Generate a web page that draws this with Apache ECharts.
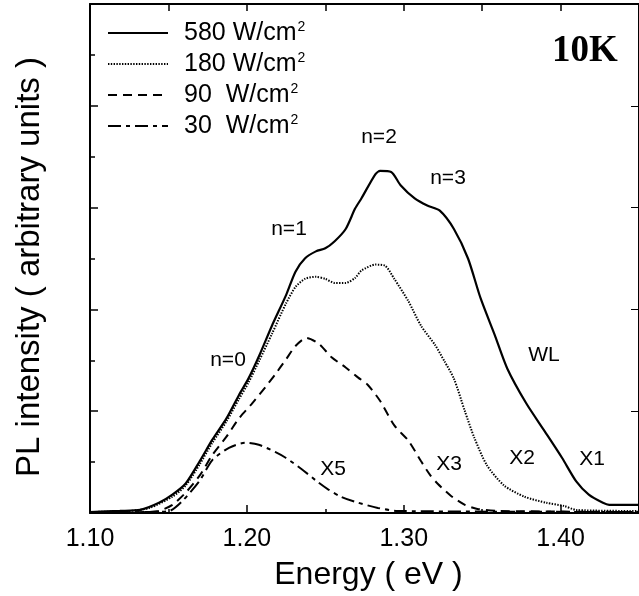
<!DOCTYPE html>
<html>
<head>
<meta charset="utf-8">
<script src="https://cdn.jsdelivr.net/npm/echarts@6/dist/echarts.min.js"></script>
<style>
  html, body { margin: 0; padding: 0; background: #fff; }
  #chart { width: 639px; height: 596px; }
</style>
</head>
<body>
<div id="chart"></div>
<script>
// PL spectra at 10 K for four excitation power densities
const seriesNames = ['580 W/cm²', '180 W/cm²', '90  W/cm²', '30  W/cm²'];

const energy580 = [1.100, 1.119, 1.132, 1.144, 1.1525, 1.161, 1.170, 1.178, 1.187, 1.195, 1.201, 1.208, 1.216, 1.225, 1.231, 1.237, 1.244, 1.250, 1.256, 1.263, 1.269, 1.273, 1.282, 1.285, 1.292, 1.298, 1.307, 1.315, 1.323, 1.332, 1.341, 1.349, 1.358, 1.366, 1.378, 1.390, 1.401, 1.410, 1.418, 1.427, 1.431, 1.450];
const pl580     = [0.01, 0.02, 0.03, 0.10, 0.18, 0.29, 0.51, 0.72, 0.93, 1.16, 1.32, 1.55, 1.84, 2.14, 2.37, 2.50, 2.57, 2.60, 2.67, 2.79, 2.99, 3.09, 3.33, 3.36, 3.35, 3.22, 3.09, 3.02, 2.97, 2.79, 2.50, 2.11, 1.75, 1.42, 1.08, 0.80, 0.54, 0.31, 0.18, 0.10, 0.08, 0.08];

const energy180 = [1.100, 1.125, 1.138, 1.1525, 1.161, 1.170, 1.178, 1.187, 1.195, 1.201, 1.208, 1.216, 1.225, 1.231, 1.237, 1.244, 1.250, 1.256, 1.263, 1.269, 1.273, 1.282, 1.288, 1.294, 1.303, 1.311, 1.320, 1.326, 1.332, 1.339, 1.345, 1.353, 1.364, 1.377, 1.391, 1.402, 1.410, 1.450];
const pl180     = [0.01, 0.02, 0.05, 0.16, 0.27, 0.48, 0.69, 0.90, 1.12, 1.28, 1.50, 1.76, 2.06, 2.22, 2.30, 2.32, 2.30, 2.26, 2.26, 2.31, 2.38, 2.44, 2.43, 2.30, 2.08, 1.84, 1.65, 1.49, 1.32, 1.00, 0.74, 0.47, 0.27, 0.16, 0.10, 0.07, 0.03, 0.02];

const energy90 = [1.100, 1.138, 1.144, 1.1525, 1.161, 1.170, 1.178, 1.187, 1.195, 1.203, 1.212, 1.218, 1.225, 1.231, 1.238, 1.246, 1.254, 1.263, 1.271, 1.277, 1.285, 1.294, 1.303, 1.311, 1.317, 1.3215, 1.330, 1.339, 1.347, 1.360, 1.450];
const pl90     = [0.00, 0.01, 0.02, 0.08, 0.20, 0.37, 0.57, 0.75, 0.93, 1.07, 1.24, 1.36, 1.51, 1.64, 1.72, 1.66, 1.53, 1.43, 1.33, 1.26, 1.10, 0.86, 0.71, 0.51, 0.37, 0.29, 0.17, 0.08, 0.04, 0.02, 0.01];

const energy30 = [1.100, 1.138, 1.1506, 1.159, 1.170, 1.178, 1.1886, 1.199, 1.2076, 1.218, 1.225, 1.235, 1.2456, 1.252, 1.260, 1.269, 1.2835, 1.296, 1.450];
const pl30     = [0.00, 0.01, 0.02, 0.12, 0.32, 0.52, 0.64, 0.69, 0.67, 0.60, 0.54, 0.43, 0.30, 0.23, 0.16, 0.11, 0.05, 0.02, 0.01];

// Peak / transition labels
const peakLabels = ['n=0', 'n=1', 'n=2', 'n=3', 'WL', 'X5', 'X3', 'X2', 'X1'];
const tempLabel = '10K';

const FONT = '"Liberation Sans", Arial, Helvetica, sans-serif';
const zip = (xs, ys) => xs.map((x, i) => [x, ys[i]]);

const lineStyles = [
  { color: '#000', width: 2.2, type: 'solid' },
  { color: '#000', width: 2, type: [1.4, 1.4] },
  { color: '#000', width: 2, type: [9, 6] },
  { color: '#000', width: 2, type: [13, 5, 4, 5] }
];
const curves = [
  zip(energy580, pl580),
  zip(energy180, pl180),
  zip(energy90, pl90),
  zip(energy30, pl30)
];

// label anchor points (pixels) for the peak annotations
const labelAnchors = [[228, 360], [289, 229], [379, 137], [448, 178], [544, 355], [333, 469], [449, 464], [522, 458], [592, 459]];

const chart = echarts.init(document.getElementById('chart'), null, { renderer: 'canvas' });

const frameTick = { color: '#000', width: 1.5 };

chart.setOption({
  backgroundColor: '#fff',
  animation: false,
  grid: { left: 90, top: 4, width: 553, height: 511, containLabel: false },
  legend: {
    orient: 'vertical',
    left: 107,
    top: 20,
    padding: 0,
    itemWidth: 60,
    itemHeight: 14,
    itemGap: 5,
    selectedMode: false,
    data: seriesNames,
    itemStyle: { color: 'rgba(0,0,0,0)', borderWidth: 0, opacity: 0 },
    formatter: name => '{m|' + name.replace('²', '') + '}{s|2}',
    textStyle: {
      color: '#000',
      fontFamily: FONT,
      fontSize: 25,
      rich: {
        m: { fontSize: 25, fontFamily: FONT, color: '#000', padding: [0, 0, 0, 11], verticalAlign: 'bottom' },
        s: { fontSize: 14, fontFamily: FONT, color: '#000', padding: [0, 0, 12, 1], verticalAlign: 'bottom' }
      }
    }
  },
  xAxis: [
    {
      type: 'value', position: 'bottom', min: 1.10, max: 1.45, interval: 0.1,
      axisLine: { show: true, onZero: false, lineStyle: { color: '#000', width: 2 } },
      axisTick: { show: true, inside: true, length: 8, lineStyle: frameTick },
      minorTick: { show: true, splitNumber: 2, length: 4, lineStyle: frameTick },
      splitLine: { show: false },
      minorSplitLine: { show: false },
      axisLabel: {
        color: '#000', fontFamily: FONT, fontSize: 25, margin: 14,
        showMaxLabel: false,
        formatter: v => v.toFixed(2)
      },
      name: 'Energy ( eV )', nameLocation: 'middle', nameGap: 46,
      nameTextStyle: { color: '#000', fontFamily: FONT, fontSize: 32, padding: [0, 0, 0, 8] }
    },
    {
      type: 'value', position: 'top', min: 1.10, max: 1.45, interval: 0.05,
      axisLine: { show: true, onZero: false, lineStyle: { color: '#000', width: 2 } },
      axisTick: { show: true, inside: true, length: 7, lineStyle: frameTick },
      axisLabel: { show: false },
      splitLine: { show: false }
    }
  ],
  yAxis: [
    {
      type: 'value', position: 'left', min: 0, max: 5, interval: 1,
      axisLine: { show: true, onZero: false, lineStyle: { color: '#000', width: 2 } },
      axisTick: { show: true, inside: true, length: 8, lineStyle: frameTick },
      minorTick: { show: true, splitNumber: 2, length: 5, lineStyle: frameTick },
      splitLine: { show: false },
      minorSplitLine: { show: false },
      axisLabel: { show: false },
      name: 'PL intensity ( arbitrary units )', nameLocation: 'middle', nameGap: 44,
      nameTextStyle: { color: '#000', fontFamily: FONT, fontSize: 33, padding: [0, 17, 0, 0] }
    },
    {
      type: 'value', position: 'right', min: 0, max: 5, interval: 1,
      axisLine: { show: true, onZero: false, lineStyle: { color: '#000', width: 2 } },
      axisTick: { show: true, inside: true, length: 8, lineStyle: { color: '#000', width: 1 } },
      axisLabel: { show: false },
      splitLine: { show: false }
    }
  ],
  series: seriesNames.map((name, k) => ({
    name,
    type: 'line',
    xAxisIndex: 0,
    yAxisIndex: 0,
    data: curves[k],
    symbol: 'none',
    smooth: 0.25,
    lineStyle: lineStyles[k],
    itemStyle: { color: '#000' },
    z: 10 - k
  })),
  graphic: [
    ...peakLabels.map((t, i) => ({
      type: 'text',
      x: labelAnchors[i][0],
      y: labelAnchors[i][1],
      style: {
        text: t, fill: '#000', font: '21px ' + FONT,
        textAlign: 'center', textVerticalAlign: 'middle'
      }
    })),
    {
      type: 'text', x: 585, y: 51,
      style: {
        text: tempLabel, fill: '#000',
        font: 'bold 37px "Liberation Serif", "Times New Roman", serif',
        textAlign: 'center', textVerticalAlign: 'middle'
      }
    }
  ]
});
</script>
</body>
</html>
